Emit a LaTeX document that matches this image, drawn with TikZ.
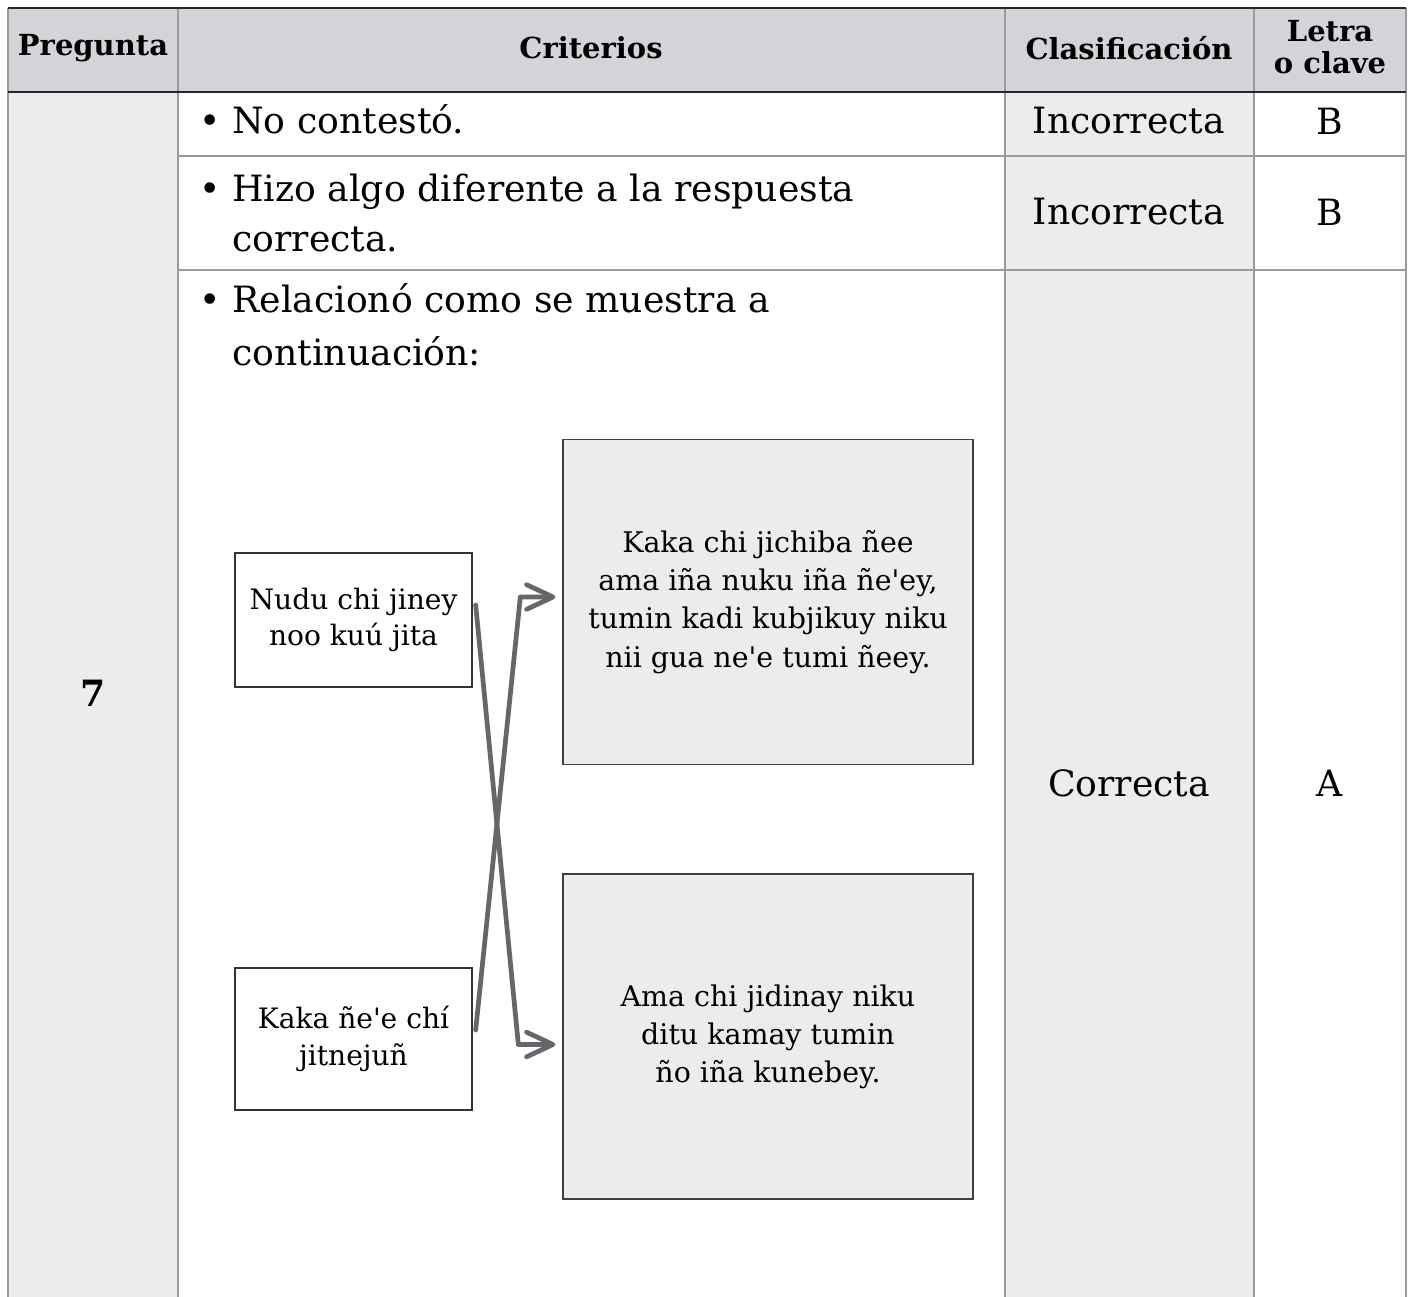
\documentclass[tikz,border=0pt]{standalone}
\usepackage{fontspec}
\setmainfont{DejaVu Serif}[Ligatures=TeXOff]
\usetikzlibrary{arrows.meta,positioning}

\definecolor{headgray}{HTML}{D3D4D8}
\definecolor{cellgray}{HTML}{ECECEE}
\definecolor{rulegray}{HTML}{9A9A9C}
\definecolor{linkgray}{HTML}{67676B}

\newcommand{\itemdot}{\makebox[0.66cm][l]{\textbullet}}
\newcommand{\itemgap}{\hspace*{0.66cm}}

\begin{document}
\begin{tikzpicture}
    [x=0.02cm,y=-0.02cm,
      header/.style={font=\bfseries\fontsize{16.5}{18}\selectfont,align=center,inner sep=0pt},
      cell/.style={font=\fontsize{20.6}{24}\selectfont,inner sep=0pt},
      item/.style={font=\fontsize{20.6}{27}\selectfont,align=left,anchor=base west,inner sep=0pt},
      option/.style={draw=black!80,line width=0.8pt,fill=white,align=center,
        font=\fontsize{16}{20.7}\selectfont,minimum width=4.74cm},
      answer/.style={draw=black!75,line width=0.8pt,fill=cellgray,align=center,
        font=\fontsize{16.2}{21.7}\selectfont,minimum width=8.2cm,minimum height=6.5cm},
      link/.style={draw=linkgray,line width=2.7pt,line cap=round,line join=round,
        -{Straight Barb[length=15pt,width=14pt,round]}}
    ]

    \useasboundingbox (0,0) rectangle (1413,1297);

    % fills
    \fill[headgray] (8,8) rectangle (1406,92);
    \fill[cellgray] (8,92) rectangle (178,1297);
    \fill[cellgray] (1005,92) rectangle (1254,1297);

    % rules
    \foreach \x in {8,178,1005,1254,1406}
      \draw[rulegray,line width=0.9pt] (\x,8) -- (\x,1297);
    \foreach \y in {156,270}
      \draw[rulegray,line width=0.9pt] (178,\y) -- (1406,\y);
    \foreach \y in {8,92}
      \draw[black!85,line width=1.7pt] (8,\y) -- (1406,\y);

    % header
    \node [header] (pregunta) at (93,48) {Pregunta};
    \node [header] (criterios) at (591,48) {Criterios};
    \node [header] (clasificacion) at (1129,48) {Clasificación};
    \node [header] (letra) at (1330,47) {Letra\\o clave};

    % body
    \node [cell,font=\bfseries\fontsize{20.6}{24}\selectfont] (numero) at (93,693) {7};
    \node [item] (nocontesto) at (199,134) {\itemdot No contestó.};
    \node [item,font=\fontsize{20.6}{28.5}\selectfont] (diferente) at (199,252)
      {\itemdot Hizo algo diferente a la respuesta\\\itemgap correcta.};
    \node [item,font=\fontsize{20.6}{30.5}\selectfont] (relaciono) at (199,366)
      {\itemdot Relacionó como se muestra a\\\itemgap continuación:};

    \node [cell] (incorrecta1) at (1129,121) {Incorrecta};
    \node [cell] (incorrecta2) at (1129,212) {Incorrecta};
    \node [cell] (correcta) at (1129,783) {Correcta};
    \node [cell] (letrab1) at (1330,121) {B};
    \node [cell] (letrab2) at (1330,212) {B};
    \node [cell] (letraa) at (1330,783) {A};

    % relacion
    \node [option,minimum height=2.68cm] (nudu) at (353.5,620) {Nudu chi jiney\\noo kuú jita};
    \node [option,minimum height=2.84cm] (kaka) at (353.5,1039) {Kaka ñe'e chí\\jitnejuñ};
    \node [answer] (jichiba) at (768,602)
      {Kaka chi jichiba ñee\\ama iña nuku iña ñe'ey,\\tumin kadi kubjikuy niku\\nii gua ne'e tumi ñeey.};
    \node [answer] (jidinay) at (768,1036.5)
      {Ama chi jidinay niku\\ditu kamay tumin\\ño iña kunebey.};

    \draw [link] ([shift={(3,-15)}]nudu.east) -- ([shift={(-44,8)}]jidinay.west)
      -- ([shift={(-7,8)}]jidinay.west);
    \draw [link] ([shift={(3,-9)}]kaka.east) -- ([shift={(-42,-5)}]jichiba.west)
      -- ([shift={(-7,-5)}]jichiba.west);
\end{tikzpicture}
\end{document}
